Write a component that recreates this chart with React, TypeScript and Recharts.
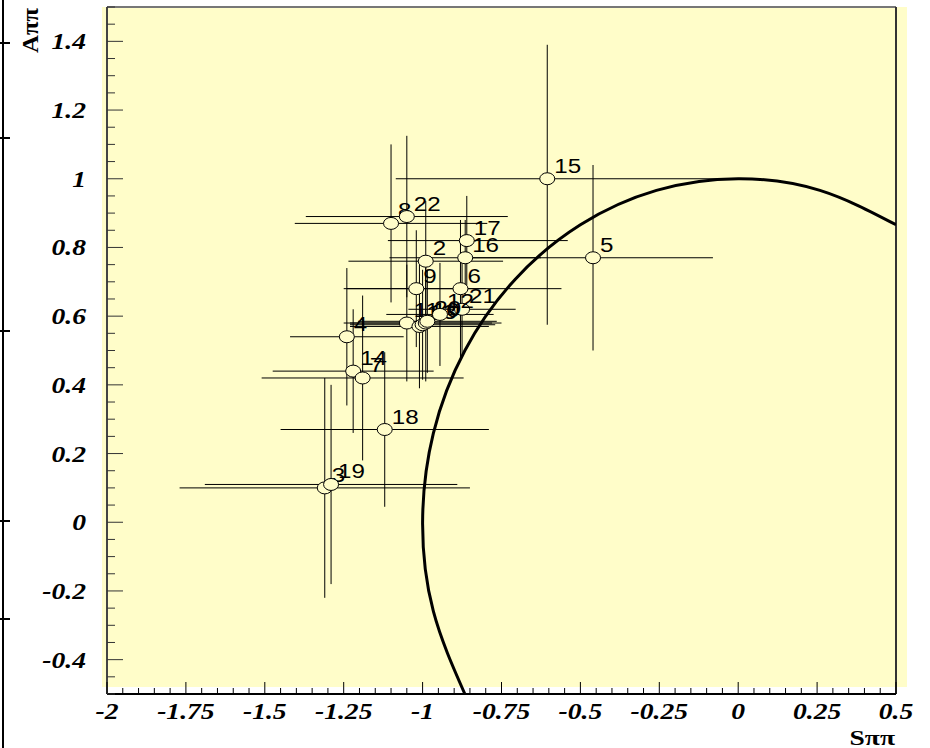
import React from 'react';
import {
  ComposedChart,
  Scatter,
  Line,
  XAxis,
  YAxis,
  ErrorBar,
  ReferenceLine,
} from 'recharts';

// measured S, A with asymmetric errors [minus, plus]
const ids = [15, 5, 8, 22, 17, 16, 2, 9, 6, 21, 11, 1, 13, 10, 20, 12, 4, 14, 7, 18, 3, 19];
const sValues = [-0.605, -0.46, -1.1, -1.05, -0.86, -0.865, -0.99, -1.02, -0.88, -0.875, -1.05, -1.01, -1.0, -0.99, -0.985, -0.945, -1.24, -1.22, -1.19, -1.12, -1.31, -1.29];
const aValues = [1.0, 0.77, 0.87, 0.89, 0.82, 0.77, 0.76, 0.68, 0.68, 0.62, 0.58, 0.57, 0.575, 0.58, 0.585, 0.605, 0.54, 0.44, 0.42, 0.27, 0.1, 0.11];
const sErrors: [number, number][] = [
  [0.48, 0.61], [0.39, 0.38], [0.305, 0.305], [0.32, 0.32], [0.25, 0.32], [0.24, 0.24],
  [0.245, 0.245], [0.22, 0.22], [0.37, 0.32], [0.17, 0.17], [0.2, 0.27], [0.22, 0.22],
  [0.23, 0.23], [0.24, 0.24], [0.22, 0.22], [0.17, 0.17], [0.18, 0.18], [0.255, 0.255],
  [0.32, 0.32], [0.33, 0.33], [0.46, 0.46], [0.4, 0.4],
];
const aErrors: [number, number][] = [
  [0.425, 0.39], [0.27, 0.27], [0.23, 0.23], [0.235, 0.235], [0.13, 0.13], [0.11, 0.11],
  [0.175, 0.175], [0.17, 0.17], [0.2, 0.2], [0.14, 0.14], [0.17, 0.17], [0.18, 0.18],
  [0.16, 0.16], [0.17, 0.17], [0.15, 0.15], [0.15, 0.15], [0.2, 0.2], [0.18, 0.18],
  [0.24, 0.24], [0.225, 0.225], [0.32, 0.32], [0.29, 0.29],
];

// physical boundary S^2 + A^2 = 1, points along the drawn arc
const boundaryS = [-0.866, -0.966, -1, -0.966, -0.866, -0.707, -0.5, -0.259, 0, 0.259, 0.5];
const boundaryA = [-0.5, -0.259, 0, 0.259, 0.5, 0.707, 0.866, 0.966, 1, 0.966, 0.866];

const xMajor = [-2, -1.75, -1.5, -1.25, -1, -0.75, -0.5, -0.25, 0, 0.25, 0.5];
const yMajor = [-0.4, -0.2, 0, 0.2, 0.4, 0.6, 0.8, 1, 1.2, 1.4];

const points = ids.map((id, i) => ({
  id,
  x: sValues[i],
  y: aValues[i],
  ex: sErrors[i],
  ey: aErrors[i],
}));
const boundary = boundaryS.map((x, i) => ({ x, y: boundaryA[i] }));

// minor ticks every 0.05
const xTicks = Array.from({ length: 51 }, (_, i) => (i * 5 - 200) / 100);
const yTicks = Array.from({ length: 41 }, (_, i) => (i * 5 - 50) / 100);

const BG = '#fffdc9';
const tickFont = {
  fontFamily: '"Liberation Serif", serif',
  fontWeight: 700,
  fontStyle: 'italic',
  fontSize: 24,
};
const titleFont = {
  fontFamily: '"Liberation Serif", serif',
  fontWeight: 700,
  fontSize: 23,
};

const findMajor = (list: number[], v: number) => list.find((m) => Math.abs(m - v) < 1e-6);

const XTick = (props: any) => {
  const { x, y, payload } = props;
  const m = findMajor(xMajor, payload.value);
  const major = m !== undefined;
  return (
    <g>
      <line x1={x} y1={y} x2={x} y2={y - (major ? 12 : 6)} stroke="#000" strokeWidth={1} />
      {major && (
        <text transform={`translate(${x},${y + 25}) scale(1.15,1)`} textAnchor="middle" fill="#000" style={tickFont}>
          {String(m)}
        </text>
      )}
    </g>
  );
};

const YTick = (props: any) => {
  const { x, y, payload } = props;
  const m = findMajor(yMajor, payload.value);
  const major = m !== undefined;
  return (
    <g>
      <line x1={x} y1={y} x2={x + (major ? 16 : 8)} y2={y} stroke="#333" strokeWidth={1} />
      {major && (
        <text transform={`translate(${x - 21},${y + 8}) scale(1.15,1)`} textAnchor="end" fill="#000" style={tickFont}>
          {String(m)}
        </text>
      )}
    </g>
  );
};

const Marker = (props: any) => {
  const { cx, cy, payload } = props;
  return (
    <g>
      <ellipse cx={cx} cy={cy} rx={7.5} ry={6} fill={BG} stroke="#000" strokeWidth={1} />
      <text
        transform={`translate(${cx + 7},${cy - 6}) scale(1.15,1)`}
        fill="#000"
        style={{ fontFamily: '"Liberation Sans", Arial, sans-serif', fontSize: 21 }}
      >
        {payload.id}
      </text>
    </g>
  );
};

const notches = [42, 137, 330, 520, 618];

export default function App() {
  return (
    <div style={{ position: 'absolute', left: 0, top: 0, width: 930, height: 748, background: '#fff' }}>
      <div style={{ position: 'absolute', left: 2, top: 0, width: 2, height: 748, background: '#000' }} />
      {notches.map((t) => (
        <div key={t} style={{ position: 'absolute', left: 0, top: t, width: 10, height: 2, background: '#000' }} />
      ))}
      <div style={{ position: 'absolute', left: 102, top: 7, width: 805, height: 680, background: BG }} />
      <div style={{ position: 'absolute', left: 0, top: 0 }}>
        <ComposedChart width={930} height={748} margin={{ top: 7, right: 34, bottom: 0, left: 0 }}>
          <XAxis
            type="number"
            dataKey="x"
            domain={[-2, 0.5]}
            allowDataOverflow
            ticks={xTicks}
            interval={0}
            tick={<XTick />}
            tickSize={0}
            tickMargin={0}
            tickLine={false}
            height={54}
            axisLine={{ stroke: '#000', strokeWidth: 2 }}
          />
          <YAxis
            type="number"
            dataKey="y"
            domain={[-0.5, 1.5]}
            allowDataOverflow
            ticks={yTicks}
            interval={0}
            tick={<YTick />}
            tickSize={0}
            tickMargin={0}
            tickLine={false}
            width={107}
            axisLine={{ stroke: '#444', strokeWidth: 2 }}
          />
          <ReferenceLine y={1.5} stroke="#777" strokeWidth={2} />
          <ReferenceLine x={0.5} stroke="#333" strokeWidth={2} />
          <Scatter data={points} isAnimationActive={false} shape={<Marker />}>
            <ErrorBar dataKey="ex" direction="x" width={0} stroke="#000" strokeWidth={1} />
            <ErrorBar dataKey="ey" direction="y" width={0} stroke="#000" strokeWidth={1} />
          </Scatter>
          <Line
            data={boundary}
            dataKey="y"
            type="natural"
            stroke="#000"
            strokeWidth={3}
            dot={false}
            activeDot={false}
            isAnimationActive={false}
          />
        </ComposedChart>
      </div>
      <svg style={{ position: 'absolute', left: 0, top: 0, pointerEvents: 'none' }} width={930} height={748}>
        <text transform="translate(38,53) rotate(-90) scale(1.08,1)" style={titleFont} fill="#000">
          Aππ
        </text>
        <text transform="translate(895,745) scale(1.25,1)" textAnchor="end" style={{ ...titleFont, fontSize: 22 }} fill="#000">
          Sππ
        </text>
      </svg>
    </div>
  );
}
